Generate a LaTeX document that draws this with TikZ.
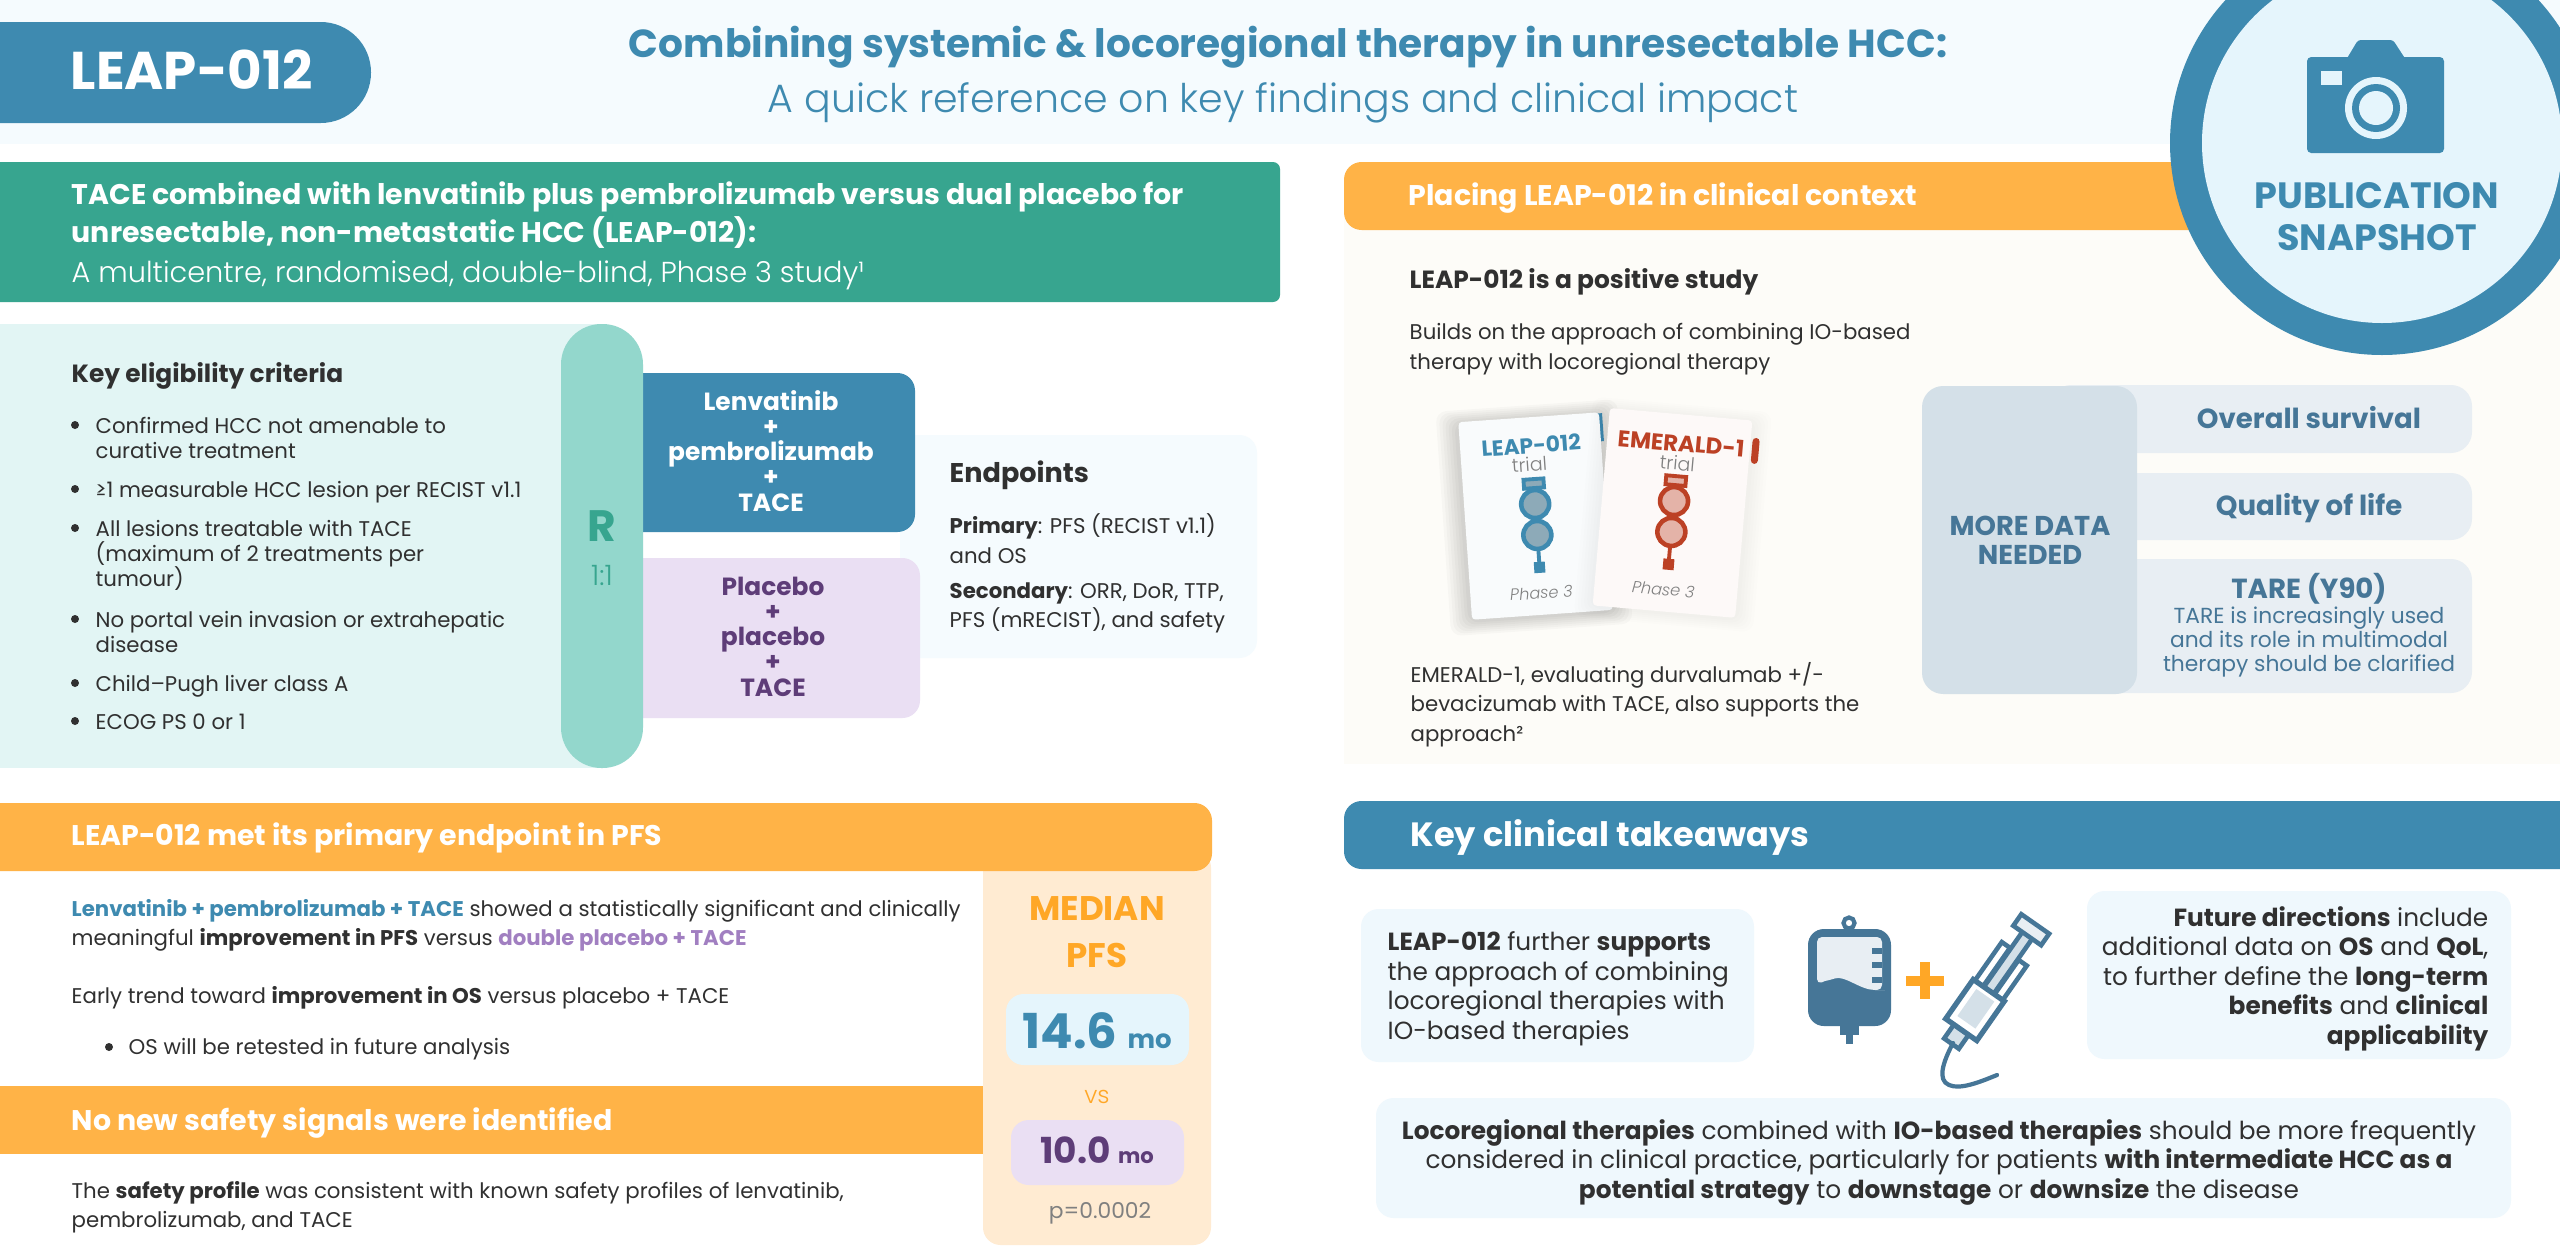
\documentclass[tikz,border=0pt]{standalone}
\usepackage{fontspec}
\setmainfont{Poppins}
\newfontfamily\lightfont{Poppins Light}
\lineskiplimit=-20pt
\normallineskiplimit=-20pt
\definecolor{leapblue}{HTML}{3E8AB0}
\definecolor{paleblue}{HTML}{E5F5FC}
\definecolor{headwash}{HTML}{F5FBFE}
\definecolor{trialgreen}{HTML}{37A58F}
\definecolor{palegreen}{HTML}{E2F5F4}
\definecolor{midgreen}{HTML}{93D7CC}
\definecolor{bandorange}{HTML}{FFB347}
\definecolor{paleorange}{HTML}{FFEBD2}
\definecolor{deeporange}{HTML}{FFA726}
\definecolor{deeppurple}{HTML}{5E3D78}
\definecolor{palepurple}{HTML}{EADFF3}
\definecolor{softpurple}{HTML}{A17FC1}
\definecolor{inkdark}{HTML}{303030}
\definecolor{slateblue}{HTML}{467697}
\definecolor{slatebox}{HTML}{D4E0E8}
\definecolor{slaterow}{HTML}{E8EEF3}
\definecolor{contextwash}{HTML}{FDFCF8}
\definecolor{takeawaywash}{HTML}{EFF8FD}
\definecolor{emeraldred}{HTML}{BC4125}
\newcommand{\bodysize}{\fontsize{6.05}{8.25}\selectfont}
\newcommand{\listsize}{\fontsize{6.05}{7.1}\selectfont}
\newcommand{\boxsize}{\fontsize{7.05}{8.35}\selectfont}
\newcommand{\headsize}{\fontsize{8.08}{10.8}\selectfont\bfseries}
\newcommand{\subhead}{\fontsize{7.08}{9}\selectfont\bfseries}
\newcommand{\beadstack}[2]{
\draw[#1,line width=1.1pt,fill=#2] (-10,-37) rectangle (10,-28);
\draw[#1,line width=1.3pt,fill=#2] (0,-12) circle[radius=14];
\draw[#1,line width=1.3pt,fill=#2] (0,19) circle[radius=14];
\draw[#1,line width=1.1pt] (0,33) -- (0,47);
\fill[#1] (-5.5,46) rectangle (5.5,57);
}
\tikzset{
  bodytxt/.style={inner sep=0,anchor=base west,align=left,text=inkdark,font=\bodysize},
  listtxt/.style={inner sep=0,anchor=base west,align=left,text=inkdark,font=\listsize},
  headtxt/.style={inner sep=0,anchor=base west,align=left,text=white,font=\headsize},
  subtxt/.style={inner sep=0,anchor=base west,align=left,text=inkdark,font=\subhead},
  boxtxt/.style={inner sep=0,anchor=base,text=inkdark,font=\boxsize},
  armtxt/.style={inner sep=0,anchor=base,align=center,font=\fontsize{7.07}{7.15}\selectfont\bfseries},
  cardtxt/.style={inner sep=0,transform shape,anchor=center},
  pfstxt/.style={inner sep=0,anchor=base,align=center},
  rowtxt/.style={inner sep=0,anchor=base,text=slateblue,align=center},
  softbox/.style={rounded corners=5pt}
}
\begin{document}
\begin{tikzpicture}[x=0.01cm,y=-0.01cm]
\useasboundingbox (0,0) rectangle (2560,1254);
\clip (0,0) rectangle (2560,1254);
\fill[white] (0,0) rectangle (2560,1254);
% header
\fill[headwash] (0,0) rectangle (2560,144);
\fill[leapblue,rounded corners=14.3pt] (-60,22) rectangle (371,123);
\node[headtxt,font=\fontsize{15.1}{16}\selectfont\bfseries] (studytag) at (70,89) {LEAP-012};
\node[inner sep=0,anchor=base,text=leapblue,font=\fontsize{11.12}{12}\selectfont\bfseries] (maintitle) at (1288,57) {Combining systemic \& locoregional therapy in unresectable HCC:};
\node[inner sep=0,anchor=base,text=leapblue,font=\lightfont\fontsize{11.23}{12}\selectfont] (subtitle) at (1283,112) {A quick reference on key findings and clinical impact};
% study design
\fill[trialgreen,rounded corners=2pt] (-20,162) rectangle (1280,302);
\node[headtxt] (studyhead) at (71,282) {TACE combined with lenvatinib plus pembrolizumab versus dual placebo for\\unresectable, non-metastatic HCC (LEAP-012):\\[.5pt]{\lightfont\mdseries\fontsize{8.2}{10.8}\selectfont A multicentre, randomised, double-blind, Phase 3 study¹}};
\fill[palegreen] (0,324) rectangle (602,768);
\fill[headwash,softbox] (900,435) rectangle (1257,658);
\fill[leapblue,softbox] (620,373) rectangle (915,532);
\fill[palepurple,softbox] (620,558) rectangle (920,718);
\fill[midgreen,rounded corners=11.5pt] (561,324) rectangle (643,768);
\node[subtxt] (criteriahead) at (71,382) {Key eligibility criteria};
\foreach \y in {425,489,528,619,683,721} \fill[inkdark] (75,\y) circle[radius=4];
\node[listtxt] (crit1) at (95,458) {Confirmed HCC not amenable to\\curative treatment};
\node[listtxt] (crit2) at (95,497) {≥1 measurable HCC lesion per RECIST v1.1};
\node[listtxt] (crit3) at (95,586) {All lesions treatable with TACE\\(maximum of 2 treatments per\\tumour)};
\node[listtxt] (crit4) at (95,652) {No portal vein invasion or extrahepatic\\disease};
\node[listtxt] (crit5) at (95,691) {Child–Pugh liver class A};
\node[listtxt] (crit6) at (95,729) {ECOG PS 0 or 1};
\node[inner sep=0,anchor=base,text=trialgreen,font=\fontsize{12.5}{13}\selectfont\bfseries] (randR) at (602,541) {R};
\node[inner sep=0,anchor=base,text=trialgreen,font=\lightfont\fontsize{8}{9}\selectfont] (randratio) at (602,585) {1:1};
\node[armtxt,text=white] (armactive) at (771,511) {Lenvatinib\\+\\pembrolizumab\\+\\TACE};
\node[armtxt,text=deeppurple] (armplacebo) at (773,696) {Placebo\\+\\placebo\\+\\TACE};
\node[subtxt,font=\fontsize{7.7}{9}\selectfont\bfseries] (endpointhead) at (949,482) {Endpoints};
\node[bodytxt] (endpointone) at (949,563) {\textbf{Primary}: PFS (RECIST v1.1)\\and OS};
\node[bodytxt] (endpointtwo) at (949,627) {\textbf{Secondary}: ORR, DoR, TTP,\\PFS (mRECIST), and safety};
% results
\fill[paleorange,rounded corners=5pt] (983,850) rectangle (1211,1245);
\fill[bandorange,rounded corners=5pt] (-20,803) rectangle (1212,871);
\fill[bandorange] (0,1086) rectangle (983,1154);
\node[headtxt] (pfshead) at (71,845) {LEAP-012 met its primary endpoint in PFS};
\node[headtxt] (safetyhead) at (71,1130) {No new safety signals were identified};
\node[bodytxt] (pfsline) at (71,945) {\textbf{\textcolor{leapblue}{Lenvatinib + pembrolizumab + TACE}} showed a statistically significant and clinically\\meaningful \textbf{improvement in PFS} versus \textbf{\textcolor{softpurple}{double placebo + TACE}}};
\node[bodytxt] (osline) at (71,1003) {Early trend toward \textbf{improvement in OS} versus placebo + TACE};
\fill[inkdark] (109,1047) circle[radius=4];
\node[bodytxt] (retest) at (128,1054) {OS will be retested in future analysis};
\node[bodytxt] (safetyline) at (71,1227) {The \textbf{safety profile} was consistent with known safety profiles of lenvatinib,\\pembrolizumab, and TACE};
\node[pfstxt,text=deeporange,font=\fontsize{9.7}{13.3}\selectfont\bfseries] (medianlabel) at (1097,967) {MEDIAN\\PFS};
\fill[paleblue,softbox] (1006,994) rectangle (1189,1065);
\fill[palepurple,softbox] (1011,1120) rectangle (1184,1185);
\node[pfstxt,text=leapblue,font=\fontsize{13.7}{14}\selectfont\bfseries] (pfsactive) at (1097,1048) {14.6 {\fontsize{7.4}{8}\selectfont mo}};
\node[pfstxt,text=deeporange,font=\lightfont\fontsize{6.8}{8}\selectfont] (pfsvs) at (1097,1103) {vs};
\node[pfstxt,text=deeppurple,font=\fontsize{10.2}{11}\selectfont\bfseries] (pfsplacebo) at (1097,1163) {10.0 {\fontsize{6}{7}\selectfont mo}};
\node[pfstxt,text=black!50,font=\fontsize{6.2}{8}\selectfont] (pfsp) at (1100,1218) {p=0.0002};
% clinical context
\fill[contextwash] (1344,200) rectangle (2560,764);
\fill[bandorange,rounded corners=5pt] (1344,162) rectangle (2300,230);
\node[headtxt] (contexthead) at (1408,205) {Placing LEAP-012 in clinical context};
\node[subtxt] (positivehead) at (1409,288) {LEAP-012 is a positive study};
\node[bodytxt] (buildsline) at (1409,369) {Builds on the approach of combining IO-based\\therapy with locoregional therapy};
\node[bodytxt] (emeraldline) at (1410,741) {EMERALD-1, evaluating durvalumab +/-\\bevacizumab with TACE, also supports the\\approach²};
\begin{scope}[shift={(1536,516)},rotate=4]
\foreach \s in {1,...,7} \fill[black,opacity=.025,rounded corners=3pt] (-72-\s*3,-97-\s*2) rectangle (68+\s*3,100+\s*2);
\fill[leapblue] (68,-98) rectangle (73,-70);
\fill[white!60!leapblue!8,rounded corners=1pt] (-71,-99) rectangle (70,99);
\node[cardtxt,text=leapblue,font=\fontsize{6.2}{7}\selectfont\bfseries] (leapcard) at (0,-71) {LEAP-012};
\node[cardtxt,text=black!50,font=\lightfont\fontsize{5.4}{6}\selectfont] (leaptrial) at (-3,-52) {trial};
\beadstack{leapblue}{leapblue!55!gray!70}
\node[cardtxt,text=black!50,font=\lightfont\fontsize{4.6}{5}\selectfont\itshape] (leapphase) at (0,77) {Phase 3};
\end{scope}
\begin{scope}[shift={(1673,513)},rotate=-5]
\foreach \s in {1,...,6} \fill[black,opacity=.008,rounded corners=3pt] (-72-\s*3,-97-\s*2) rectangle (72+\s*3,100+\s*2);
\fill[emeraldred,rounded corners=1pt] (73,-82) rectangle (80,-56);
\fill[white!97!emeraldred,rounded corners=1pt] (-72,-99) rectangle (71,99);
\node[cardtxt,text=emeraldred,font=\fontsize{6.5}{7}\selectfont\bfseries] (emeraldcard) at (2,-70) {EMERALD-1};
\node[cardtxt,text=black!50,font=\lightfont\fontsize{5.4}{6}\selectfont] (emeraldtrial) at (0,-50) {trial};
\beadstack{emeraldred}{emeraldred!40}
\node[cardtxt,text=black!50,font=\lightfont\fontsize{4.6}{5}\selectfont\itshape] (emeraldphase) at (-3,77) {Phase 3};
\end{scope}
\fill[slaterow,rounded corners=6pt] (2050,385) rectangle (2472,453);
\fill[slaterow,rounded corners=6pt] (2050,473) rectangle (2472,540);
\fill[slaterow,rounded corners=6pt] (2050,559) rectangle (2472,693);
\fill[slatebox,rounded corners=6pt] (1922,386) rectangle (2137,694);
\node[rowtxt,font=\fontsize{7.75}{8.1}\selectfont\bfseries] (moredata) at (2030,564) {MORE DATA\\NEEDED};
\node[rowtxt,font=\fontsize{7.85}{9}\selectfont\bfseries] (rowsurvival) at (2309,428) {Overall survival};
\node[rowtxt,font=\fontsize{7.85}{9}\selectfont\bfseries] (rowquality) at (2309,515) {Quality of life};
\node[rowtxt,font=\fontsize{7.85}{9}\selectfont\bfseries] (rowtare) at (2309,598) {TARE (Y90)};
\node[rowtxt,font=\fontsize{6.2}{6.8}\selectfont] (taredetail) at (2309,671) {TARE is increasingly used\\and its role in multimodal\\therapy should be clarified};
% snapshot badge
\fill[leapblue] (2382,143) circle[radius=212];
\fill[paleblue] (2382,143) circle[radius=180];
\fill[leapblue,rounded corners=1.2pt] (2307,57) rectangle (2444,153);
\fill[leapblue,rounded corners=.8pt] (2346,60) -- (2358,40) -- (2393,40) -- (2406,60) -- cycle;
\fill[paleblue] (2321,71) rectangle (2342,85);
\fill[paleblue] (2376,108) circle[radius=31];
\fill[leapblue] (2376,108) circle[radius=24];
\fill[paleblue] (2376,108) circle[radius=17];
\node[pfstxt,text=leapblue,font=\fontsize{10.4}{11.9}\selectfont\bfseries] (snapshot) at (2377,250) {PUBLICATION\\SNAPSHOT};
% takeaways
\fill[leapblue,rounded corners=5pt] (1344,801) rectangle (2600,869);
\node[headtxt,font=\fontsize{9.57}{11}\selectfont\bfseries] (takeawayhead) at (1410,846) {Key clinical takeaways};
\fill[takeawaywash,softbox] (1361,909) rectangle (1754,1062);
\fill[takeawaywash,softbox] (2087,891) rectangle (2511,1059);
\fill[takeawaywash,softbox] (1376,1098) rectangle (2511,1218);
\node[boxtxt,anchor=base west,align=left] (boxleft) at (1387,1039) {\textbf{LEAP-012} further \textbf{supports}\\the approach of combining\\locoregional therapies with\\IO-based therapies};
\node[boxtxt,anchor=base east,align=right] (boxright) at (2489,1044) {\textbf{Future directions} include\\additional data on \textbf{OS} and \textbf{QoL},\\to further define the \textbf{long-term}\\\textbf{benefits} and \textbf{clinical}\\\textbf{applicability}};
\node[boxtxt,align=center] (boxwide) at (1939,1198) {\textbf{Locoregional therapies} combined with \textbf{IO-based therapies} should be more frequently\\considered in clinical practice, particularly for patients \textbf{with intermediate HCC as a}\\\textbf{potential strategy} to \textbf{downstage} or \textbf{downsize} the disease};
% iv bag
\fill[slateblue,rounded corners=4.5pt] (1808,929) rectangle (1891,1026);
\draw[slateblue,line width=1.2pt] (1849,923) circle[radius=5.5];
\fill[slateblue] (1840,1020) rectangle (1859,1035);
\fill[slateblue] (1846,1030) rectangle (1853,1044);
\fill[slaterow,rounded corners=1.4pt] (1817,937) -- (1882,937) -- (1882,990) -- (1880,990) .. controls (1860,990) and (1845,975) .. (1830,980) .. controls (1825,981) and (1820,983) .. (1817,984) -- cycle;
\foreach \y in {948,962,977} \fill[slateblue] (1872,\y) rectangle (1882,\y+6);
% plus
\fill[deeporange] (1906,976) rectangle (1944,986);
\fill[deeporange] (1920,962) rectangle (1930,999);
% syringe
\begin{scope}[shift={(1975,1010)},rotate=55]
\draw[slateblue,line width=1.3pt,fill=slatebox] (-5,-6) rectangle (92,6);
\draw[slateblue,line width=1.3pt,fill=white] (24,-17) rectangle (71,-7);
\draw[slateblue,line width=1.3pt,fill=white] (24,7) rectangle (66,17);
\draw[slateblue,line width=1.3pt,fill=slaterow] (91,-17) rectangle (105,17);
\draw[slateblue,line width=1.3pt,fill=slatebox] (-41,-9) rectangle (-24,9);
\draw[slateblue,line width=1.5pt,fill=white] (-24,-19) rectangle (24,19);
\fill[slatebox] (-15,-11) rectangle (18,11);
\end{scope}
\draw[slateblue,line width=1.2pt,line cap=round] (1953,1043) .. controls (1943,1062) and (1937,1080) .. (1949,1085) .. controls (1960,1090) and (1980,1082) .. (1997,1075);
\end{tikzpicture}
\end{document}
